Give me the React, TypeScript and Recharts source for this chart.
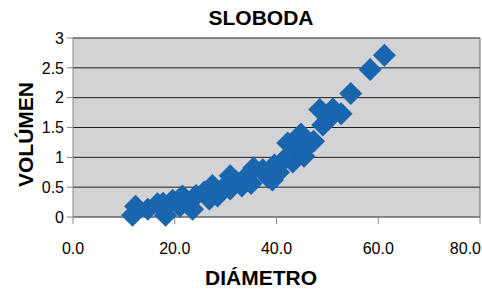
import React from 'react';
import {
  ScatterChart,
  Scatter,
  XAxis,
  YAxis,
  CartesianGrid,
  ReferenceLine,
} from 'recharts';

const diameters = [
  11.7, 12.3, 14.7, 16.6, 17.7, 18.2, 19.6, 21.0, 21.5, 22.3,
  23.5, 24.2, 25.8, 26.8, 27.4, 28.4, 29.5, 30.9, 30.9, 32.0,
  33.2, 34.3, 35.0, 35.5, 37.3, 38.4, 39.2, 39.6, 40.4, 41.4,
  42.2, 43.2, 44.0, 44.8, 45.4, 46.4, 47.3, 48.5, 49.1, 50.1,
  51.1, 52.7, 54.6, 58.4, 61.2,
];
const volumes = [
  0.03, 0.18, 0.13, 0.22, 0.23, 0.03, 0.28, 0.18, 0.35, 0.26,
  0.13, 0.36, 0.42, 0.30, 0.53, 0.35, 0.48, 0.69, 0.47, 0.60,
  0.52, 0.70, 0.56, 0.82, 0.79, 0.66, 0.62, 0.87, 0.75, 0.95,
  1.24, 0.92, 1.12, 1.39, 1.02, 1.21, 1.27, 1.80, 1.54, 1.63,
  1.81, 1.73, 2.07, 2.47, 2.71,
];
const xTicks = [0, 20, 40, 60, 80];
const yTicks = [0, 0.5, 1, 1.5, 2, 2.5, 3];
const title = 'SLOBODA';
const xLabel = 'DIÁMETRO';
const yLabel = 'VOLÚMEN';

const data = diameters.map((d, i) => ({ d, v: volumes[i] }));

const FONT = '"Liberation Sans", Arial, sans-serif';
const BLUE = '#1a66ae';

const Diamond = (props: any) => {
  const { cx, cy } = props;
  if (cx == null || cy == null) return null;
  const r = 11.5;
  return (
    <path
      d={`M${cx},${cy - r}L${cx + r},${cy}L${cx},${cy + r}L${cx - r},${cy}Z`}
      fill={BLUE}
    />
  );
};

const XTick = (props: any) => {
  const { x, y, payload } = props;
  const isLast = payload.value === xTicks[xTicks.length - 1];
  return (
    <text
      x={isLast ? 481 : x}
      y={y}
      dy="0.71em"
      textAnchor={isLast ? 'end' : 'middle'}
      style={{ fontFamily: FONT, fontSize: 16, fill: '#000' }}
    >
      {Number(payload.value).toFixed(1)}
    </text>
  );
};

export default function App() {
  return (
    <div style={{ position: 'absolute', left: 0, top: 0, width: 482, height: 292, background: '#fff' }}>
      <ScatterChart
        width={482}
        height={292}
        margin={{ top: 38, right: 2, bottom: 0, left: 0 }}
        style={{ fontFamily: FONT }}
      >
        <CartesianGrid
          horizontal={true}
          vertical={false}
          stroke="#1e1e1e"
          strokeWidth={1}
          fill="#d3d3d5"
          fillOpacity={1}
        />
        <XAxis
          type="number"
          dataKey="d"
          domain={[0, 80]}
          ticks={xTicks}
          height={75}
          tickSize={7}
          tickMargin={19}
          axisLine={{ stroke: '#8a8a8a' }}
          tickLine={{ stroke: '#8a8a8a' }}
          tick={<XTick />}
          interval={0}
        />
        <YAxis
          type="number"
          dataKey="v"
          domain={[0, 3]}
          ticks={yTicks}
          width={73}
          tickSize={6}
          tickMargin={3}
          axisLine={{ stroke: '#8a8a8a' }}
          tickLine={{ stroke: '#8a8a8a' }}
          tick={{ fill: '#000', fontSize: 16, fontFamily: FONT }}
          interval={0}
        />
        <ReferenceLine x={80} stroke="#6a6a6a" strokeWidth={1} />
        <Scatter data={data} shape={<Diamond />} fill={BLUE} isAnimationActive={false} />
        <text
          x={261}
          y={25}
          textAnchor="middle"
          style={{ fontFamily: FONT, fontWeight: 'bold', fontSize: 21, fill: '#000' }}
        >
          {title}
        </text>
        <text
          x={261}
          y={285}
          textAnchor="middle"
          style={{ fontFamily: FONT, fontWeight: 'bold', fontSize: 21, fill: '#000' }}
        >
          {xLabel}
        </text>
        <text
          x={33}
          y={134.5}
          textAnchor="middle"
          transform="rotate(-90 33 134.5)"
          style={{ fontFamily: FONT, fontWeight: 'bold', fontSize: 21, fill: '#000' }}
        >
          {yLabel}
        </text>
      </ScatterChart>
    </div>
  );
}
